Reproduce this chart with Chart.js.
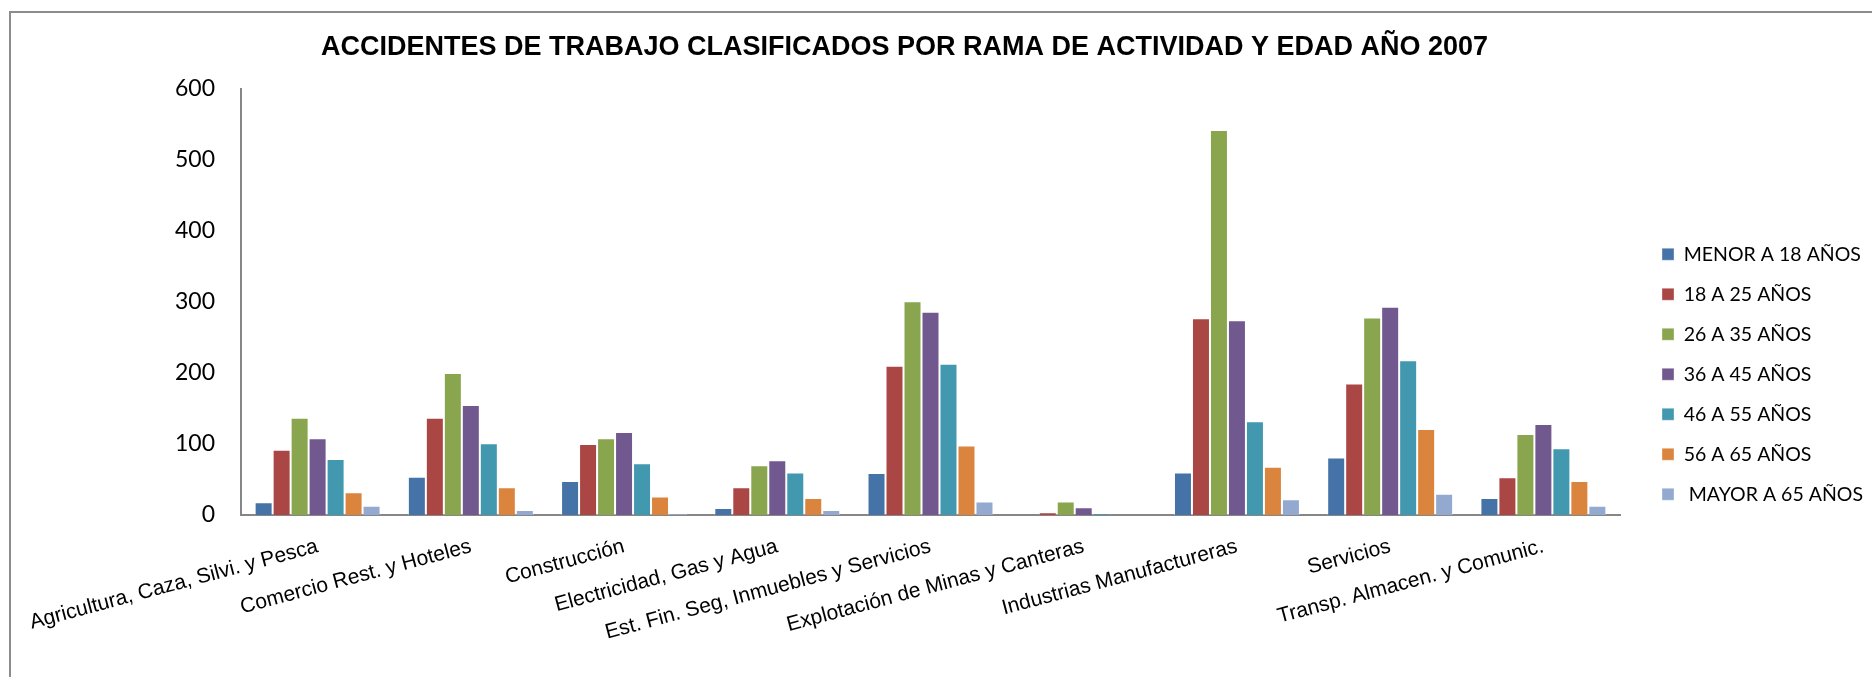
<!DOCTYPE html>
<html>
<head>
<meta charset="utf-8">
<script src="https://cdn.jsdelivr.net/npm/chart.js@4.4.1/dist/chart.umd.min.js"></script>
<style>
  html, body { margin: 0; padding: 0; background: #fff; overflow: hidden; }
  #wrap { position: relative; width: 1872px; height: 677px; }
  #frame { position: absolute; left: 9px; top: 11px; width: 1900px; height: 700px;
           border-left: 2px solid #8c8c8c; border-top: 2px solid #8c8c8c; }
  canvas { position: absolute; left: 0; top: 0; }
</style>
</head>
<body>
<div id="wrap">
  <div id="frame"></div>
  <canvas id="myChart" width="1872" height="677"></canvas>
</div>
<script>
// ramas de actividad
const categories = [
  'Agricultura, Caza, Silvi. y Pesca',
  'Comercio Rest. y Hoteles',
  'Construcción',
  'Electricidad, Gas y Agua',
  'Est. Fin. Seg, Inmuebles y Servicios',
  'Explotación de Minas y Canteras',
  'Industrias Manufactureras',
  'Servicios',
  'Transp. Almacen. y Comunic.'
];

const seriesNames = ['MENOR A 18 AÑOS', '18 A 25 AÑOS', '26 A 35 AÑOS', '36 A 45 AÑOS',
                     '46 A 55 AÑOS', '56 A 65 AÑOS', ' MAYOR A 65 AÑOS'];

// accidentes por grupo de edad
const menor18  = [18,  54,  48,  10,  59,  0,  60,  81,  24];
const de18a25  = [92,  137, 100, 39,  210, 4,  277, 185, 53];
const de26a35  = [137, 200, 108, 70,  301, 19, 542, 278, 114];
const de36a45  = [108, 155, 117, 77,  286, 11, 274, 293, 128];
const de46a55  = [79,  101, 73,  60,  213, 2,  132, 218, 94];
const de56a65  = [32,  39,  26,  24,  98,  0,  68,  121, 48];
const mayor65  = [13,  7,   2,   7,   19,  0,  22,  30,  13];

const yTicks = [0, 100, 200, 300, 400, 500, 600];

const colors = ['#4572A7', '#AA4643', '#89A54E', '#71588F', '#4198AF', '#DB843D', '#93A9CF'];
const allSeries = [menor18, de18a25, de26a35, de36a45, de46a55, de56a65, mayor65];

const datasets = allSeries.map((vals, i) => ({
  label: seriesNames[i],
  data: vals,
  backgroundColor: colors[i],
  borderColor: 'rgba(255,255,255,0.35)',
  borderWidth: 1,
  categoryPercentage: 0.822,
  barPercentage: 1.0
}));

// legend sits a bit away from the plot like in the excel chart,
// and its clip box has to reach the right edge so the text is not cut
const legendNudge = {
  id: 'legendNudge',
  afterLayout(chart) {
    const lg = chart.legend;
    if (!lg) return;
    lg.left += 21.5;
    lg.right = chart.width;
    lg.width = lg.right - lg.left;
    lg.top -= 152.5; lg.bottom -= 152.5;
  }
};

const axisGray = '#868686';

new Chart(document.getElementById('myChart').getContext('2d'), {
  type: 'bar',
  data: { labels: categories, datasets: datasets },
  plugins: [legendNudge],
  options: {
    responsive: false,
    animation: false,
    devicePixelRatio: 1,
    layout: { padding: { left: 10, right: 73, top: 0, bottom: 0 } },
    plugins: {
      title: {
        display: true,
        text: 'ACCIDENTES DE TRABAJO CLASIFICADOS POR RAMA DE ACTIVIDAD Y EDAD AÑO 2007',
        color: '#000',
        font: { family: 'Liberation Sans', size: 27, weight: 'bold' },
        padding: { top: 31, bottom: 25.4 }
      },
      legend: {
        position: 'right',
        align: 'end',
        maxWidth: 179,
        labels: {
          boxWidth: 12,
          boxHeight: 12,
          padding: 20.5,
          color: '#000',
          font: { family: 'Lato', size: 19.5 }
        }
      },
      tooltip: { enabled: false }
    },
    scales: {
      x: {
        grid: { display: false, drawTicks: false },
        border: { display: true, color: axisGray, width: 2 },
        ticks: {
          autoSkip: false,
          maxRotation: 15,
          minRotation: 15,
          padding: 19,
          color: '#000',
          font: { family: 'Liberation Sans', size: 21 }
        },
        afterFit(s) {
          s.height = 162;
          s.paddingLeft = 0;
          s.paddingRight = 0;
        }
      },
      y: {
        min: 0,
        max: 600,
        grid: { display: false, drawTicks: false },
        border: { display: true, color: axisGray, width: 2 },
        afterBuildTicks(s) { s.ticks = yTicks.map(v => ({ value: v })); },
        ticks: {
          padding: 26,
          color: '#000',
          font: { family: 'Lato', size: 23 }
        },
        afterFit(s) { s.width = 231; }
      }
    }
  }
});
</script>
</body>
</html>
